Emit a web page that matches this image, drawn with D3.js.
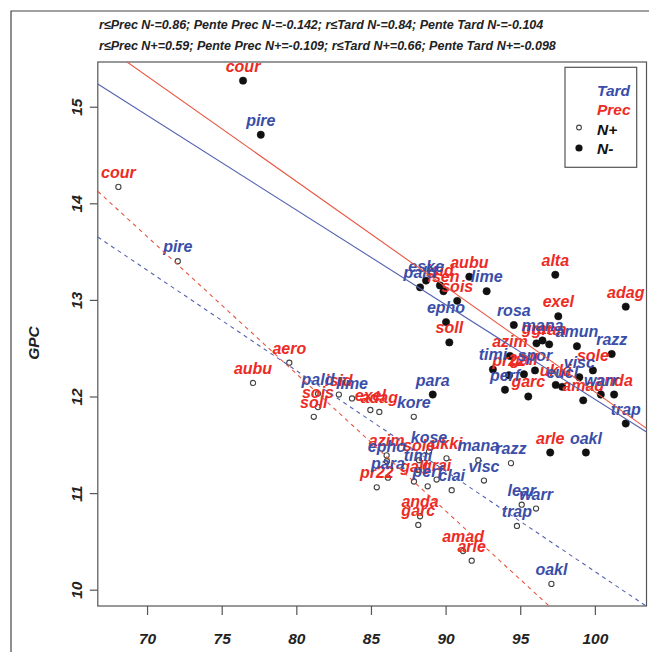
<!DOCTYPE html>
<html>
<head>
<meta charset="utf-8">
<script src="https://cdn.jsdelivr.net/npm/d3@7"></script>
<style>
  body { margin: 0; background: #fff; }
  text { font-family: "Liberation Sans", Arial, Helvetica, sans-serif; font-weight: bold; font-style: italic; }
</style>
</head>
<body>
<svg id="chart" width="649" height="652"></svg>
<script>
// ---- data -------------------------------------------------------------
// Prec (early) varieties, N- (filled points)
const precNmNames = ["cour","aubu","isid","isen","sois","soll","alta","exel","adag","grai","gran","azim","pr22","gall","garc","sole","amad","anda","arle","ukki"];
const precNmX     = [76.43, 91.59, 89.62, 89.86, 90.78, 90.25, 97.35, 97.55, 102.07, 96.09, 96.94, 94.31, 94.25, 95.25, 95.54, 99.87, 99.22, 101.29, 97.01, 97.38];
const precNmY     = [15.27, 13.24, 13.15, 13.09, 12.99, 12.56, 13.26, 12.83, 12.93, 12.55, 12.54, 12.42, 12.22, 12.23, 12.00, 12.27, 11.96, 12.02, 11.42, 12.12];

// Tard (late) varieties, N- (filled points)
const tardNmNames = ["pire","eske","pald","lime","epho","rosa","mana","amun","razz","timi","spor","perf","visc","eucl","warr","trap","para","oakl"];
const tardNmX     = [77.62, 88.69, 88.29, 92.75, 90.03, 94.57, 96.49, 98.80, 101.13, 93.17, 95.99, 93.98, 98.96, 97.81, 100.40, 102.07, 89.14, 99.40];
const tardNmY     = [14.71, 13.20, 13.13, 13.09, 12.77, 12.74, 12.58, 12.52, 12.44, 12.28, 12.27, 12.07, 12.20, 12.10, 12.02, 11.72, 12.02, 11.42];

// Prec varieties, N+ (open points)
const precNpNames = ["cour","aero","aubu","soll","sois","isid","adag","exel","azim","sole","ukki","gall","grai","pr22","anda","garc","amad","arle"];
const precNpX     = [68.08, 79.53, 77.10, 81.17, 81.45, 82.85, 85.56, 84.96, 86.05, 88.22, 90.06, 87.88, 89.40, 85.39, 88.29, 88.17, 91.17, 91.75];
const precNpY     = [14.17, 12.35, 12.14, 11.79, 11.89, 12.02, 11.84, 11.86, 11.39, 11.34, 11.36, 11.12, 11.14, 11.06, 10.76, 10.67, 10.40, 10.30];

// Tard varieties, N+ (open points)
const tardNpNames = ["pire","pald","lime","kore","epho","kose","timi","para","mana","razz","visc","perf","clai","lear","warr","trap","oakl"];
const tardNpX     = [72.06, 81.45, 83.73, 87.87, 86.07, 88.89, 88.15, 86.14, 92.19, 94.38, 92.57, 88.80, 90.41, 95.10, 96.06, 94.78, 97.09];
const tardNpY     = [13.40, 12.03, 11.98, 11.79, 11.33, 11.43, 11.24, 11.16, 11.34, 11.31, 11.13, 11.07, 11.03, 10.88, 10.84, 10.66, 10.06];

// Regression lines: slope from the header statistics, intercept at x = 0
const lineGroups     = ["Prec", "Tard", "Prec", "Tard"];
const lineDashed     = [false, false, true, true];
const lineSlopes     = [-0.109, -0.098, -0.142, -0.104];
const lineIntercepts = [22.947, 21.771, 23.596, 20.588];

// Header statistics
const headerLines = [
  "r\u2264Prec N-=0.86; Pente Prec N-=-0.142; r\u2264Tard N-=0.84; Pente Tard N-=-0.104",
  "r\u2264Prec N+=0.59; Pente Prec N+=-0.109; r\u2264Tard N+=0.66; Pente Tard N+=-0.098"
];

const xTicks = [70, 75, 80, 85, 90, 95, 100];
const yTicks = [10, 11, 12, 13, 14, 15];
const legendLabels = ["Tard", "Prec", "N+", "N-"];

// ---- layout -----------------------------------------------------------
const colors = { Prec: "#ec2b25", Tard: "#3a4ea8" };
const lineColors = { Prec: "#e8553f", Tard: "#5563b0" };
const frameColor = "#555";
const plot = { left: 97.8, right: 646.5, top: 62, bottom: 606 };

const svg = d3.select("#chart");
svg.append("rect").attr("width", 649).attr("height", 652).attr("fill", "#fff");

const x = d3.scaleLinear().domain([66.70, 103.46]).range([plot.left, plot.right]);
const y = d3.scaleLinear().domain([9.831, 15.463]).range([plot.bottom, plot.top]);

// figure border (open on the right and bottom)
svg.append("path")
  .attr("d", "M11,652 V11 H649")
  .attr("fill", "none").attr("stroke", "#444").attr("stroke-width", 1.2);

// header
svg.selectAll("text.header").data(headerLines).join("text")
  .attr("class", "header")
  .attr("x", 99).attr("y", (d, i) => 29 + i * 20.5)
  .attr("font-size", 12.5).attr("fill", "#222")
  .text(d => d);

svg.append("defs").append("clipPath").attr("id", "plotClip")
  .append("rect")
  .attr("x", plot.left).attr("y", plot.top)
  .attr("width", plot.right - plot.left).attr("height", plot.bottom - plot.top);

// axes
const xAxis = svg.append("g")
  .attr("transform", `translate(0,${plot.bottom})`)
  .call(d3.axisBottom(x).tickValues(xTicks).tickSize(9).tickPadding(18).tickFormat(d3.format("d")));
xAxis.select(".domain").remove();
xAxis.selectAll(".tick line").attr("stroke", frameColor).attr("stroke-width", 1.2);
xAxis.selectAll(".tick text").attr("font-size", 15.5).attr("fill", "#222")
  .attr("font-family", "Liberation Sans, Arial, sans-serif")
  .attr("font-weight", "bold").attr("font-style", "italic");

const yAxis = svg.append("g")
  .attr("transform", `translate(${plot.left},0)`)
  .call(d3.axisLeft(y).tickValues(yTicks).tickSize(8).tickFormat(d3.format("d")));
yAxis.select(".domain").remove();
yAxis.selectAll(".tick line").attr("stroke", frameColor).attr("stroke-width", 1.2);
yAxis.selectAll(".tick text")
  .attr("x", 0).attr("y", 0).attr("dy", 0)
  .attr("text-anchor", "middle")
  .attr("transform", "translate(-16,0) rotate(-90)")
  .attr("font-size", 15.5).attr("fill", "#222")
  .attr("font-family", "Liberation Sans, Arial, sans-serif")
  .attr("font-weight", "bold").attr("font-style", "italic");

svg.append("text")
  .attr("transform", `translate(39,${(plot.top + plot.bottom) / 2 + 9}) rotate(-90)`)
  .attr("text-anchor", "middle").attr("font-size", 15.5).attr("fill", "#222")
  .text("GPC");

// plot frame
svg.append("rect")
  .attr("x", plot.left).attr("y", plot.top)
  .attr("width", plot.right - plot.left).attr("height", plot.bottom - plot.top)
  .attr("fill", "none").attr("stroke", frameColor).attr("stroke-width", 1.2);

// ---- marks ------------------------------------------------------------
function series(names, xs, ys, group, filled) {
  return names.map((n, i) => ({ name: n, x: xs[i], y: ys[i], group, filled }));
}
const pts = [].concat(
  series(precNmNames, precNmX, precNmY, "Prec", true),
  series(tardNmNames, tardNmX, tardNmY, "Tard", true),
  series(precNpNames, precNpX, precNpY, "Prec", false),
  series(tardNpNames, tardNpX, tardNpY, "Tard", false)
);

const plotG = svg.append("g").attr("clip-path", "url(#plotClip)");

plotG.selectAll("circle.pt").data(pts).join("circle")
  .attr("class", "pt")
  .attr("cx", d => x(d.x)).attr("cy", d => y(d.y))
  .attr("r", d => d.filled ? 3.7 : 2.6)
  .attr("fill", d => d.filled ? "#111" : "#fff")
  .attr("stroke", d => d.filled ? "#111" : "#444")
  .attr("stroke-width", d => d.filled ? 0.5 : 1.1);

plotG.selectAll("text.lab").data(pts).join("text")
  .attr("class", "lab")
  .attr("x", d => x(d.x)).attr("y", d => y(d.y) - 9)
  .attr("text-anchor", "middle")
  .attr("font-size", 16)
  .attr("fill", d => colors[d.group])
  .text(d => d.name);

const [x0, x1] = x.domain();
plotG.selectAll("line.reg").data(lineSlopes.map((b, i) => ({ b, a: lineIntercepts[i], g: lineGroups[i], dashed: lineDashed[i] })))
  .join("line")
  .attr("class", "reg")
  .attr("x1", x(x0)).attr("y1", d => y(d.a + d.b * x0))
  .attr("x2", x(x1)).attr("y2", d => y(d.a + d.b * x1))
  .attr("stroke", d => lineColors[d.g])
  .attr("stroke-width", 1.1)
  .attr("stroke-dasharray", d => d.dashed ? "4,4" : null);

// ---- legend -----------------------------------------------------------
const lg = svg.append("g");
lg.append("rect")
  .attr("x", 565).attr("y", 67.3).attr("width", 71.7).attr("height", 100)
  .attr("fill", "#fff").attr("stroke", frameColor).attr("stroke-width", 1.2);
const legendColors = [colors.Tard, colors.Prec, "#111", "#111"];
lg.selectAll("text").data(legendLabels).join("text")
  .attr("x", 597).attr("y", (d, i) => 95.5 + i * 19.6)
  .attr("font-size", 15.5)
  .attr("fill", (d, i) => legendColors[i])
  .text(d => d);
lg.append("circle").attr("cx", 579).attr("cy", 127.5).attr("r", 2.4)
  .attr("fill", "#fff").attr("stroke", "#444").attr("stroke-width", 1.1);
lg.append("circle").attr("cx", 579).attr("cy", 148).attr("r", 3.6).attr("fill", "#111");
</script>
</body>
</html>
